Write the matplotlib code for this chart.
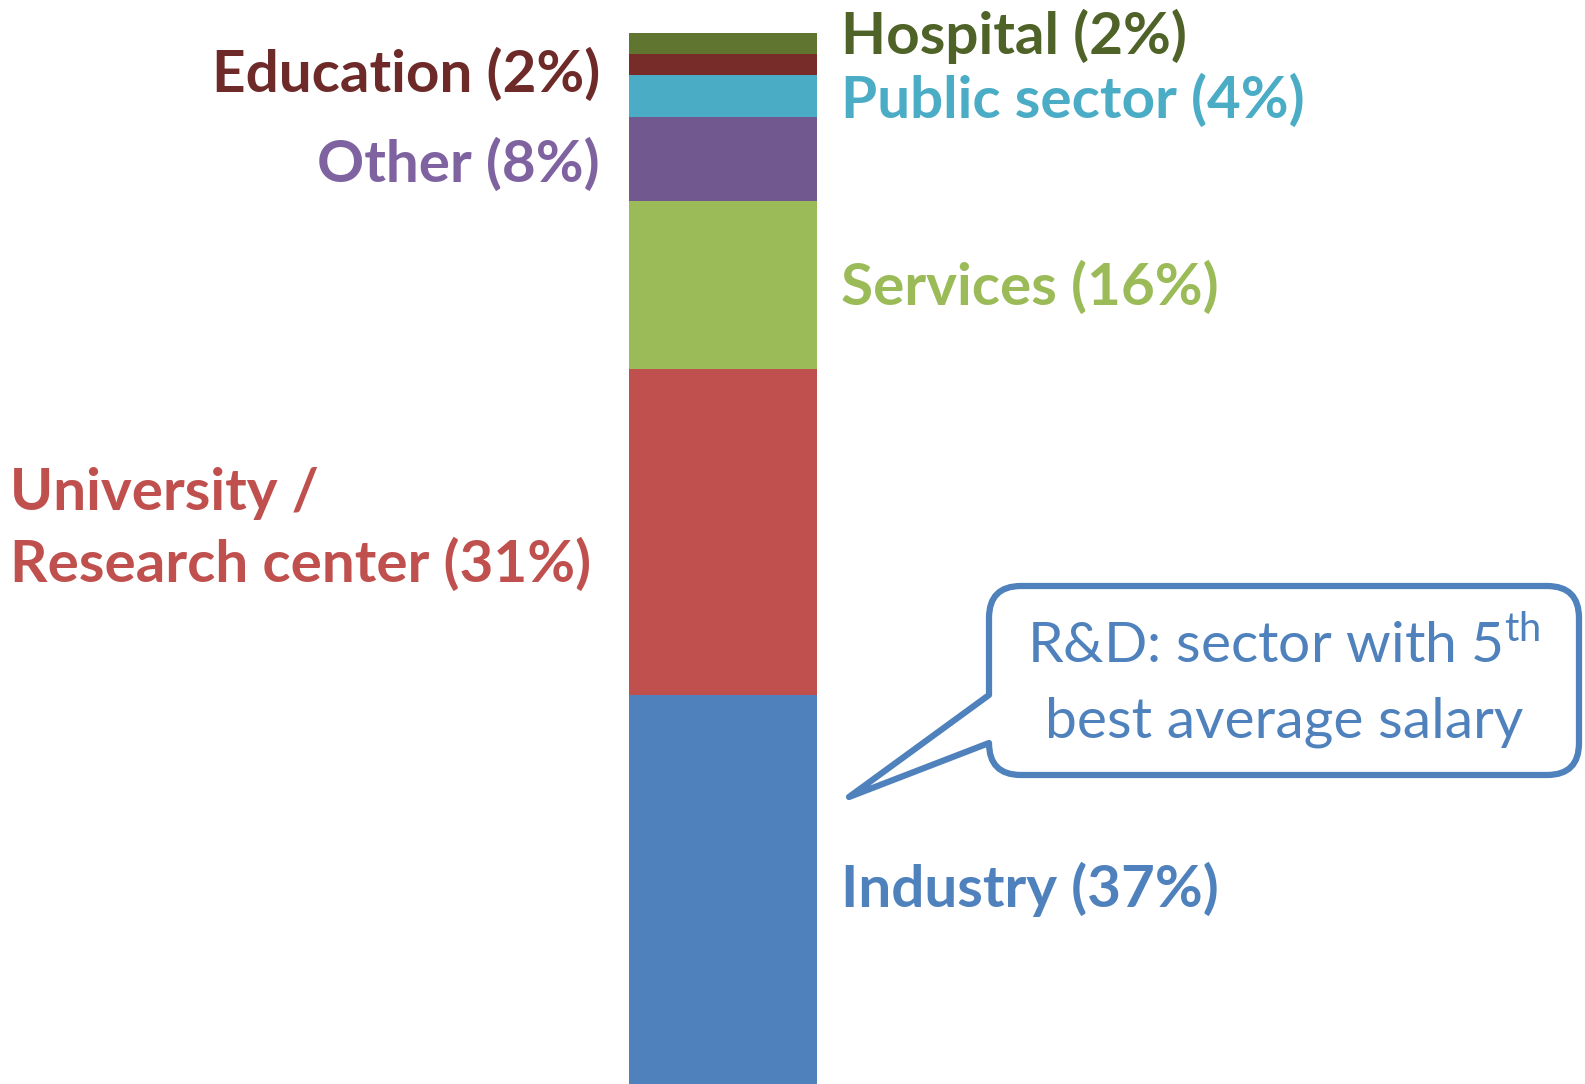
import matplotlib
matplotlib.use("Agg")
import matplotlib.pyplot as plt
from matplotlib.path import Path
import matplotlib.patches as mpatches
import numpy as np

plt.rcParams["font.family"] = ["Lato", "DejaVu Sans"]
plt.rcParams["mathtext.fontset"] = "custom"
plt.rcParams["mathtext.rm"] = "Lato"

# data (bottom to top)
sectors = ["Industry", "University /\nResearch center", "Services", "Other",
           "Public sector", "Education", "Hospital"]
shares = [37, 31, 16, 8, 4, 2, 2]
bar_colors = ["#4F81BD", "#C0504D", "#9BBB59", "#71588F",
              "#4BACC6", "#772C2A", "#5F7530"]
text_colors = ["#4F81BD", "#C0504D", "#9BBB59", "#7F63A1",
               "#4BACC6", "#6E2A28", "#4F6228"]
label_side = ["right", "left", "right", "left", "right", "left", "right"]

W, H = 1585, 1084
fig = plt.figure(figsize=(W / 100, H / 100), dpi=100)
ax = fig.add_axes([0, 0, 1, 1])

# bar occupies pixel columns 629..817, top of stack at pixel row 33
BAR_L, BAR_R, BAR_TOP = 629, 817, 33
unit = BAR_R - BAR_L
x0 = -0.5 - BAR_L / unit
x1 = 0.5 + (W - BAR_R) / unit
ax.set_xlim(x0, x1)
ax.set_ylim(0, 100 * H / (H - BAR_TOP))
ax.set_axis_off()


def px_x(px):
    return x0 + px / unit


bottoms = np.concatenate([[0], np.cumsum(shares)[:-1]])
ax.bar([0] * len(shares), shares, bottom=bottoms, width=1.0,
       color=bar_colors, linewidth=0)

# small vertical nudges (data units) for the crowded top labels
nudge = [0, 0.3, -0.2, -0.5, -0.4, -1.0, 0.7]
FS = 42
for name, v, b, c, side, dy in zip(sectors, shares, bottoms, text_colors,
                                   label_side, nudge):
    label = f"{name} ({v}%)"
    y = b + v / 2 + dy
    if side == "right":
        ax.text(px_x(841), y, label, ha="left", va="center", fontsize=FS,
                fontweight="bold", color=c)
    elif "\n" in name:
        ax.text(px_x(10), y, label, ha="left", va="center", fontsize=FS,
                fontweight="bold", color=c, linespacing=1.4)
    else:
        ax.text(px_x(600), y, label, ha="right", va="center", fontsize=FS,
                fontweight="bold", color=c)

# callout in pixel coordinates (overlay axes, y pointing down)
ov = fig.add_axes([0, 0, 1, 1], facecolor="none")
ov.set_xlim(0, W)
ov.set_ylim(H, 0)
ov.set_axis_off()

L, R, T, B, r = 989, 1579, 586, 775, 32
tip = (849, 797)
verts = [
    (L + r, T), (R - r, T), (R, T), (R, T + r), (R, B - r), (R, B), (R - r, B),
    (L + r, B), (L, B), (L, B - r), (L, 743), tip, (L, 695), (L, T + r),
    (L, T), (L + r, T), (L + r, T),
]
codes = [
    Path.MOVETO, Path.LINETO, Path.CURVE3, Path.CURVE3, Path.LINETO,
    Path.CURVE3, Path.CURVE3, Path.LINETO, Path.CURVE3, Path.CURVE3,
    Path.LINETO, Path.LINETO, Path.LINETO, Path.LINETO, Path.CURVE3,
    Path.CURVE3, Path.CLOSEPOLY,
]
ov.add_patch(mpatches.PathPatch(Path(verts, codes), facecolor="white",
                                edgecolor="#4F81BD", linewidth=4.5,
                                joinstyle="round"))
ov.text((L + R) / 2, 645, r"R&D: sector with 5$^{\mathrm{th}}$", ha="center",
        va="center", fontsize=41, color="#4F81BD")
ov.text((L + R) / 2, 722, "best average salary", ha="center", va="center",
        fontsize=41, color="#4F81BD")

fig.savefig("out.png", dpi=100)
